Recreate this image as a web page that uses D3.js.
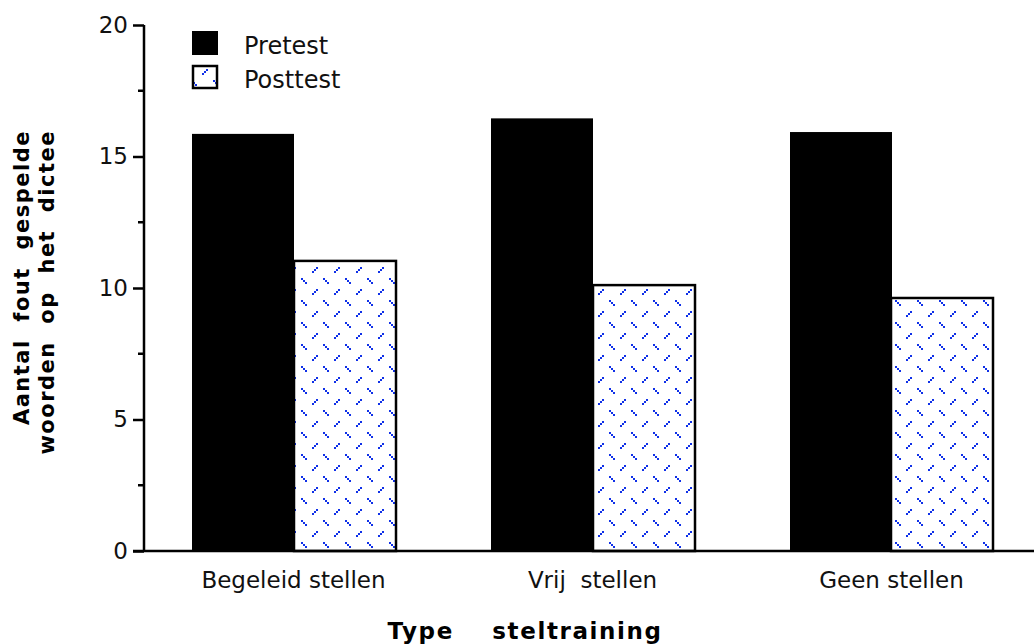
<!DOCTYPE html>
<html><head><meta charset="utf-8">
<script src="https://cdn.jsdelivr.net/npm/d3@7"></script>
<style>body{margin:0;background:#fff}svg{display:block}</style>
</head><body>
<script>
const categories = ["Begeleid stellen", "Vrij  stellen", "Geen stellen"];
const seriesNames = ["Pretest", "Posttest"];
const pretest = [15.86, 16.45, 15.93];
const posttest = [11.03, 10.11, 9.62];
const yTicks = [0, 5, 10, 15, 20];
const yMinor = [2.5, 7.5, 12.5, 17.5];

const W = 1034, H = 644;
const font = "'DejaVu Sans', Verdana, sans-serif";
const svg = d3.select("body").append("svg").attr("width", W).attr("height", H);

const defs = svg.append("defs");
const pat = defs.append("pattern").attr("id", "dots").attr("patternUnits", "userSpaceOnUse")
  .attr("width", 22).attr("height", 22).attr("x", 4).attr("y", 3);
pat.append("rect").attr("width", 22).attr("height", 22).attr("fill", "#fff");
const blue = "#0f30e8";
[[4,0],[2,2],[0,4],[11,11],[13,13],[15,15]].forEach(([a,b]) =>
  pat.append("rect").attr("x", a).attr("y", b).attr("width", 2).attr("height", 2)
    .attr("fill", blue).attr("shape-rendering", "crispEdges"));

const x0 = 144, xr = 1041;
const x = d3.scaleBand().domain(categories).range([x0, xr]).paddingInner(0.318).paddingOuter(0.159);
const xs = d3.scaleBand().domain(seriesNames).range([0, x.bandwidth()]);
const y = d3.scaleLinear().domain([0, 20]).range([551, 25]);

// bars
const data = categories.map((c, i) => ({c, vals: [pretest[i], posttest[i]]}));
const g = svg.append("g");
data.forEach(d => {
  d.vals.forEach((v, j) => {
    const r = g.append("rect")
      .attr("x", Math.round(x(d.c) + xs(seriesNames[j])))
      .attr("width", Math.round(xs.bandwidth()))
      .attr("y", y(v))
      .attr("height", y(0) - y(v));
    if (j === 0) r.attr("fill", "#000");
    else r.attr("fill", "url(#dots)").attr("stroke", "#000").attr("stroke-width", 2.5);
  });
});

// y axis
const yAxis = svg.append("g").attr("transform", `translate(${x0},0)`)
  .call(d3.axisLeft(y).tickValues(yTicks).tickSize(11).tickPadding(5).tickFormat(d3.format("d")));
yAxis.select(".domain").attr("stroke-width", 2.5).attr("d", `M0,${y(20)}V${y(0)}`);
yAxis.selectAll(".tick line").attr("stroke-width", 2.5);
yAxis.selectAll("text").attr("font-family", font).attr("font-size", 23).attr("fill", "#111");
svg.append("g").attr("transform", `translate(${x0},0)`)
  .selectAll("line").data(yMinor).join("line")
  .attr("x1", -6).attr("x2", 0).attr("y1", d => y(d)).attr("y2", d => y(d))
  .attr("stroke", "#000").attr("stroke-width", 2.5);

// x axis
const xAxis = svg.append("g").attr("transform", `translate(0,${y(0)})`)
  .call(d3.axisBottom(x).tickSize(0).tickPadding(21));
xAxis.select(".domain").attr("stroke-width", 2.5).attr("d", `M${x0-11},0H${W}`);
xAxis.selectAll("text").attr("font-family", font).attr("font-size", 23).attr("fill", "#111")
  .style("white-space", "pre");

// axis titles
svg.append("text").attr("x", 525).attr("y", 639).attr("text-anchor", "middle")
  .attr("font-family", font).attr("font-size", 23).attr("font-weight", "bold").attr("fill", "#000")
  .attr("letter-spacing", 1.6).style("white-space", "pre").text("Type    steltraining");
const yt = svg.append("text").attr("transform", "translate(29,130) rotate(-90)")
  .attr("text-anchor", "end").attr("font-family", font).attr("font-size", 21)
  .attr("font-weight", "bold").attr("fill", "#000").attr("letter-spacing", 1.5)
  .style("white-space", "pre");
yt.append("tspan").attr("x", 0).attr("y", 0).text("Aantal  fout  gespelde");
yt.append("tspan").attr("x", 0).attr("y", 25).text("woorden  op  het  dictee");

// legend
const leg = svg.append("g");
leg.append("rect").attr("x", 192).attr("y", 31).attr("width", 26).attr("height", 24).attr("fill", "#000");
leg.append("rect").attr("x", 193).attr("y", 66).attr("width", 24).attr("height", 22)
  .attr("fill", "url(#dots)").attr("stroke", "#000").attr("stroke-width", 2.5);
leg.selectAll("text").data(seriesNames).join("text")
  .attr("x", 244).attr("y", (d, i) => 54 + i * 34)
  .attr("font-family", font).attr("font-size", 24).attr("fill", "#111")
  .text(d => d);
</script>
</body></html>
